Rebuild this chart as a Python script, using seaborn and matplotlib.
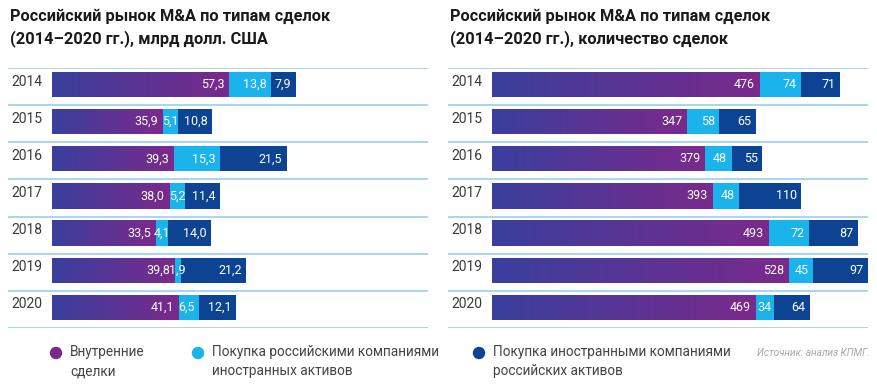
import numpy as np
import pandas as pd
import seaborn as sns
from matplotlib import pyplot as plt
from matplotlib.colors import LinearSegmentedColormap
import matplotlib.transforms as mtransforms

years = ['2014', '2015', '2016', '2017', '2018', '2019', '2020']

# млрд долл. США
vol_domestic = [57.3, 35.9, 39.3, 38.0, 33.5, 39.8, 41.1]
vol_outbound = [13.8, 5.1, 15.3, 5.2, 4.1, 1.9, 6.5]
vol_inbound = [7.9, 10.8, 21.5, 11.4, 14.0, 21.2, 12.1]

# количество сделок
cnt_domestic = [476, 347, 379, 393, 493, 528, 469]
cnt_outbound = [74, 58, 48, 48, 72, 45, 34]
cnt_inbound = [71, 65, 55, 110, 87, 97, 64]

titles = ['Российский рынок M&A по типам сделок\n(2014–2020 гг.), млрд долл. США',
          'Российский рынок M&A по типам сделок\n(2014–2020 гг.), количество сделок']
legend_labels = ['Внутренние\nсделки',
                 'Покупка российскими компаниями\nиностранных активов',
                 'Покупка иностранными компаниями\nроссийских активов']
source_text = 'Источник: анализ КПМГ.'

C_START = '#3a3f9d'
C_END = '#7a2a8c'
C_CYAN = '#1ab3ec'
C_DARK = '#0c4493'
C_LINE = '#a6d6ef'

sns.set_theme(style='white')
plt.rcParams['font.family'] = ['Roboto', 'DejaVu Sans']

W, H = 877, 384
fig = plt.figure(figsize=(W / 100, H / 100), dpi=100)
grad_cmap = LinearSegmentedColormap.from_list('mna', [C_START, C_END])


def fmt_ru(v, decimals):
    if decimals == 0:
        return str(int(v))
    return f'{v:.{decimals}f}'.replace('.', ',')


def draw_panel(left_px, right_px, zero_px, scale, dom, outb, inb, decimals, title):
    ax = fig.add_axes([left_px / W, 1 - 328 / H, (right_px - left_px) / W, 260 / H])
    df = pd.DataFrame({'year': years, 'dom': dom, 'out': outb, 'inb': inb})
    df['s2'] = df['dom'] + df['out']
    df['s3'] = df['s2'] + df['inb']

    for col, c in [('s3', C_DARK), ('s2', C_CYAN), ('dom', C_START)]:
        sns.barplot(data=df, x=col, y='year', color=c, width=0.68, orient='h',
                    saturation=1, linewidth=0, edgecolor='none', ax=ax)

    # gradient fill for the domestic segment
    n = len(years)
    grad = np.linspace(0, 1, 256).reshape(1, -1)
    for p in ax.patches[2 * n:3 * n]:
        x0, y0 = p.get_x(), p.get_y()
        w, h = p.get_width(), p.get_height()
        im = ax.imshow(grad, cmap=grad_cmap, aspect='auto',
                       extent=[x0, x0 + w, y0 + h, y0], zorder=p.get_zorder() + 0.1)
        im.set_clip_path(p)

    x_lo = -(zero_px - left_px) / scale
    x_hi = (right_px - zero_px) / scale
    shift = 0.055
    ax.set_xlim(x_lo, x_hi)
    ax.set_ylim(n - 0.5 + shift, -0.5 + shift)
    ax.axis('off')

    for i in range(n + 1):
        ax.axhline(i - 0.5 + shift, color=C_LINE, lw=1.4, zorder=0)

    trans = mtransforms.blended_transform_factory(ax.transAxes, ax.transData)
    for i, y in enumerate(years):
        ax.text(3 / (right_px - left_px), i - 0.08, y, transform=trans,
                ha='left', va='center', fontsize=10, color='#3a3a3a')

    for i in range(n):
        ends = [df['dom'][i], df['s2'][i], df['s3'][i]]
        vals = [df['dom'][i], df['out'][i], df['inb'][i]]
        for end, v in zip(ends, vals):
            label = fmt_ru(v, decimals)
            if v * scale < 20:
                ax.annotate(label, (end - v / 2, i), ha='center', va='center',
                            color='white', fontsize=9, zorder=5)
            else:
                ax.annotate(label, (end, i), xytext=(-3.2, 0), textcoords='offset points',
                            ha='right', va='center', color='white', fontsize=9,
                            zorder=5)

    fig.text((left_px + 2) / W, 1 - 9 / H, title, ha='left', va='top',
             fontsize=11.8, fontweight='bold', color='#1a1a1a', linespacing=1.45)
    return ax


draw_panel(8, 428, 52, 3.084, vol_domestic, vol_outbound, vol_inbound, 1, titles[0])
draw_panel(448, 868, 492, 0.561, cnt_domestic, cnt_outbound, cnt_inbound, 0, titles[1])

# legend row
lax = fig.add_axes([0, 0, 1, 1])
lax.set_xlim(0, W)
lax.set_ylim(H, 0)
lax.axis('off')
leg_colors = [C_END, C_CYAN, C_DARK]
leg_x = [56, 198, 479]
for lx, c, lab in zip(leg_x, leg_colors, legend_labels):
    lax.scatter([lx], [353], s=80, color=c, edgecolor='none')
    lax.text(lx + 14, 345, lab, ha='left', va='top', fontsize=9.8,
             color='#444444', linespacing=1.5)
lax.text(757, 353, source_text, ha='left', va='center', fontsize=7.2,
         style='italic', color='#a8a8a8')

fig.savefig('out.png', dpi=100)
